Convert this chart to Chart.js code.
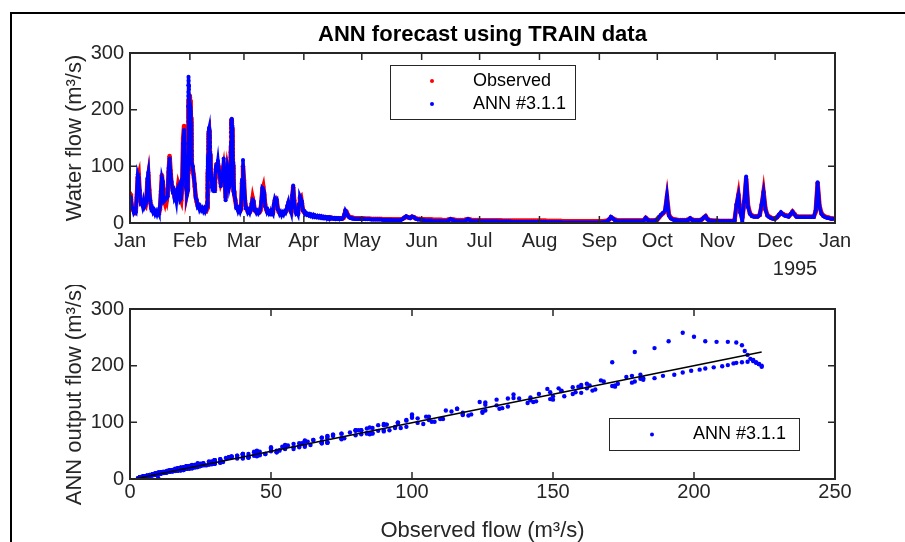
<!DOCTYPE html>
<html>
<head>
<meta charset="utf-8">
<title>ANN forecast using TRAIN data</title>
<script src="https://cdn.jsdelivr.net/npm/chart.js@4.4.0/dist/chart.umd.min.js"></script>
<style>
  html, body { margin: 0; padding: 0; background: #fff; overflow: hidden; }
  #page { position: relative; width: 905px; height: 542px; overflow: hidden; }
  #flowChart { position: absolute; left: 0; top: 0; }
  #scatterChart { position: absolute; left: 0; top: 285px; }
  #frame { position: absolute; left: 10px; top: 12px; width: 1000px; height: 1000px; border: 2px solid #000; pointer-events: none; }
</style>
</head>
<body>
<div id="page">
  <canvas id="flowChart" width="905" height="285"></canvas>
  <canvas id="scatterChart" width="905" height="257"></canvas>
  <div id="frame"></div>
</div>
<script>
// month ticks of the 1995 time axis (day of year)
var monthStarts = [0, 31, 59, 90, 120, 151, 181, 212, 243, 273, 304, 334, 365];
var monthLabels = ['Jan', 'Feb', 'Mar', 'Apr', 'May', 'Jun', 'Jul', 'Aug', 'Sep', 'Oct', 'Nov', 'Dec', 'Jan'];
var yearLabel = '1995';

// 1 Jan - 30 Jan, half-day steps
var obsJan = [
  52, 42, 30, 24, 21, 19, 22, 45, 80, 86,
  55, 40, 35, 33, 36, 32, 30, 42, 72, 84,
  58, 36, 28, 24, 22, 20, 19, 18, 18, 18,
  19, 24, 50, 84, 68, 42, 36, 46, 40, 52,
  90, 118, 92, 68, 62, 55, 48, 44, 42, 55,
  68, 62, 45, 40, 62, 150, 171, 125, 70, 52
];
var annJan = [
  47, 44, 27, 26, 18, 21, 19, 50, 86, 80,
  58, 36, 38, 30, 39, 29, 33, 38, 78, 89,
  53, 40, 25, 27, 19, 22, 16, 20, 15, 20,
  16, 28, 56, 80, 73, 38, 40, 42, 44, 47,
  97, 114, 86, 73, 57, 59, 44, 48, 38, 60,
  63, 67, 41, 44, 68, 140, 164, 117, 64, 50
];

// storm of 31 Jan - 2 Feb, hourly steps
var obsStorm = [
  60, 90, 130, 171, 179, 186, 191, 196, 200, 204,
  208, 212, 215, 217, 218, 219, 220, 221, 222, 223,
  224, 224, 223, 222, 221, 219, 217, 215, 214, 212,
  210, 207, 204, 202, 199, 196, 193, 189, 186, 182,
  178, 172, 165, 158, 150, 142, 134, 126, 118, 110
];
var annStorm = [
  58, 95, 140, 206, 224, 231, 243, 258, 251, 243,
  242, 242, 241, 236, 226, 219, 212, 208, 205, 203,
  200, 198, 203, 206, 210, 207, 206, 205, 204, 201,
  199, 197, 195, 193, 191, 188, 184, 182, 178, 175,
  170, 163, 158, 153, 146, 139, 128, 121, 113, 106
];

// 2 Feb - 9 Feb, half-day steps
var obsFebA = [95, 85, 65, 48, 38, 32, 29, 27, 26, 25, 24, 24, 23, 23, 22];
var annFebA = [100, 80, 69, 44, 41, 29, 31, 24, 28, 23, 26, 21, 25, 20, 24];

// 10-11 Feb event, hourly steps
var obsFebB = [
  28, 32, 38, 45, 53, 61, 68, 75, 82, 88,
  94, 100, 106, 112, 118, 124, 130, 136, 142, 148,
  153, 157, 160, 162, 163, 162, 160, 157, 153, 149,
  145, 141, 136, 131, 126, 121, 116, 111, 106, 102,
  98, 94, 91, 88, 86, 84, 82, 80
];
var annFebB = [
  30, 35, 36, 48, 50, 63, 66, 80, 79, 95,
  92, 108, 104, 121, 117, 136, 130, 149, 144, 159,
  156, 162, 166, 168, 165, 160, 163, 150, 155, 141,
  150, 134, 143, 124, 135, 114, 124, 106, 110, 99,
  103, 90, 96, 85, 90, 81, 86, 77
];

// 12 Feb - 21 Feb, half-day steps
var obsFebC = [80, 68, 62, 60, 72, 95, 104, 105, 98, 80, 70, 75, 90, 100, 85, 45, 70, 95, 85, 70];
var annFebC = [86, 63, 66, 56, 78, 99, 97, 110, 92, 85, 65, 80, 84, 114, 79, 40, 75, 99, 91, 64];

// 22-23 Feb event, hourly steps
var obsFebD = [
  75, 82, 90, 98, 107, 116, 125, 134, 143, 152,
  160, 167, 173, 178, 181, 182, 181, 179, 176, 172,
  168, 164, 159, 154, 149, 144, 138, 132, 126, 120,
  114, 108, 102, 96, 91, 86, 81, 76, 72, 68,
  65, 62, 60, 58, 56, 55, 54, 53
];
var annFebD = [
  72, 86, 86, 104, 101, 124, 119, 142, 136, 160,
  152, 174, 168, 182, 177, 178, 184, 172, 180, 165,
  172, 156, 163, 146, 153, 137, 142, 125, 131, 112,
  119, 101, 107, 90, 96, 81, 86, 72, 76, 65,
  69, 59, 63, 56, 59, 53, 57, 51
];

// 24 Feb - 30 Apr, half-day steps
var obsSpring = [
  50, 40, 30, 26, 24, 23, 22,
  24, 70, 100, 75, 40, 29, 24, 21, 20, 20,
  22, 32, 44, 36, 25, 21, 20, 19, 19, 19,
  22, 35, 58, 64, 50, 32, 24, 21, 20, 19,
  18, 17, 17, 18, 30, 40, 42, 38, 26, 20,
  18, 17, 16, 16, 17, 18, 20, 22, 28, 34,
  30, 22, 20, 45, 63, 40, 25, 19, 17, 17,
  30, 44, 46, 35, 24, 20, 18, 17, 16, 15.5,
  15, 14.5, 14, 13.5, 13, 13, 12.5, 12, 12, 11.5,
  11, 11, 11, 10.5, 10.5, 10, 10, 10, 9.5, 9.5,
  9.5, 9, 9, 9, 9, 8.5, 8.5, 8.5, 8.5, 8.5,
  8, 8, 8, 8, 8, 8, 9, 14, 21, 20,
  16, 13, 11, 10, 9.5, 9, 9, 8.5, 8.5, 8.5,
  8, 8, 8, 8, 8
];
var annSpring = [
  51, 43, 27, 28, 21, 25, 20,
  26, 76, 111, 70, 44, 26, 26, 19, 22, 18,
  24, 35, 41, 39, 23, 23, 18, 21, 17, 20,
  25, 38, 62, 60, 54, 29, 26, 19, 22, 17,
  20, 15, 19, 16, 33, 43, 39, 41, 24, 22,
  16, 19, 14, 18, 15, 20, 18, 24, 31, 37,
  27, 24, 18, 49, 66, 37, 27, 17, 19, 15,
  33, 47, 43, 38, 22, 22, 16, 18, 14.5, 16,
  13.5, 15.5, 12.5, 14.5, 11.5, 14, 11, 13, 10.5, 12.5,
  10, 12, 9.5, 11.5, 9, 11, 8.5, 10.5, 8.5, 10,
  8.5, 10, 7.5, 9.5, 8, 9, 7.5, 9, 7, 8.5,
  7, 8.5, 6.5, 8, 7, 8, 10, 15, 22, 19,
  15, 12, 10, 9, 8.5, 8, 8, 7.5, 7.5, 7.5,
  7, 7.5, 7, 7.5, 7
];

// 1 May - 31 Dec, daily steps
var obsRest = [
  8, 8, 7.5, 7.5, 7.5, 7, 7, 7, 7, 7,
  7, 6.5, 6.5, 6.5, 6.5, 6.5, 6, 6, 6, 6,
  6, 7, 9, 11, 10, 9, 11, 10, 8, 7,
  7, 6.5, 6.5, 6, 6, 6, 6, 5.5, 5.5, 5.5,
  5.5, 5.5, 5, 5, 5, 6, 7, 6, 5.5, 5,
  5, 5, 5, 5, 6, 7, 6, 5, 5, 5,
  5, 5, 4.5, 4.5, 4.5, 4.5, 4.5, 4.5, 4.5, 4.5,
  4.5, 4.5, 4.5, 4, 4, 4, 4, 4, 4, 4,
  4, 4, 4, 4, 4, 4, 4, 4, 4, 4,
  4, 4, 4, 4, 4, 4, 3.5, 3.5, 3.5, 3.5,
  3.5, 3.5, 3.5, 3.5, 3, 3, 3, 3, 3, 3,
  3, 3, 3, 3, 3, 3, 3, 3, 3, 3,
  3, 3, 3, 3, 3, 3, 3.5, 4, 6, 10,
  8, 6, 5, 4.5, 4.5, 4.5, 4.5, 4.5, 4.5, 4.5,
  4.5, 4.5, 4.5, 4.5, 4.5, 4.5, 5, 9, 6, 4.5,
  4.5, 4.5, 5, 6, 10, 14, 17, 20, 46, 15,
  9, 7, 6, 5.5, 5, 5, 5, 5, 5, 6,
  8, 6, 5, 5, 5, 5, 6, 9, 12, 7,
  5, 4.5, 4, 4, 4, 3.5, 3.5, 3.5, 3.5, 3.5,
  3.5, 3.5, 3.5, 5, 30, 50, 20, 10, 35, 78,
  30, 17, 13, 12, 12, 12, 14, 30, 55, 25,
  14, 11, 9, 8, 8, 10, 14, 18, 16, 14,
  13, 12, 15, 20, 16, 12, 11, 11, 11, 11,
  11, 11, 11, 11, 11, 20, 70, 30, 17, 13,
  11, 10, 9, 8, 8
];
var annRest = [
  7, 7, 6.5, 6.5, 6.5, 6, 6, 6, 6, 6,
  6, 5.5, 5.5, 5.5, 5.5, 5.5, 5, 5, 5, 5,
  5, 6.5, 9.5, 12, 10, 8.5, 11.5, 10, 7.5, 6,
  6, 5.5, 5, 4.5, 4.5, 4.5, 4.5, 4, 4, 4,
  4, 4, 3.5, 3.5, 3.5, 5, 7, 5.5, 4.5, 4,
  3.5, 3.5, 3.5, 3.5, 5, 7, 5, 3.5, 3.5, 3.5,
  3.5, 3, 3, 3, 3, 3, 3, 3, 3, 3,
  3, 2.5, 2.5, 2.5, 2.5, 2.5, 2.5, 2.5, 2, 2,
  2, 2, 2, 2, 2, 2, 2, 2, 2, 2,
  2, 2, 2, 2, 2, 2, 1.5, 1.5, 1.5, 1.5,
  1.5, 1.5, 1.5, 1.5, 1, 1, 1, 1, 1, 1,
  1, 1, 1, 1, 1, 1, 1, 1, 1, 1,
  1, 1, 1, 1, 1, 1.5, 2, 3, 6, 11,
  8, 5, 4, 3.5, 3.5, 3.5, 3.5, 3.5, 3.5, 3.5,
  3.5, 3.5, 3.5, 3.5, 3.5, 3.5, 4.5, 9, 5.5, 4,
  4, 4, 4.5, 6, 11, 15, 18, 22, 48, 13,
  8, 6, 5, 5, 4.5, 4.5, 4.5, 4.5, 4.5, 5.5,
  8.5, 5.5, 4.5, 4.5, 4.5, 4.5, 6, 9.5, 12, 6,
  4.5, 4, 3.5, 3.5, 3.5, 3, 3, 3, 3, 3,
  3, 3, 3, 4, 33, 49, 18, 2, 38, 82,
  28, 16, 12, 11, 11, 11, 14, 33, 54, 23,
  13, 10, 8.5, 7.5, 7.5, 10, 15, 19, 15, 13,
  12, 11, 16, 20, 15, 11, 10.5, 10.5, 10.5, 10.5,
  10.5, 10.5, 10.5, 10.5, 10.5, 22, 72, 28, 16, 12,
  10, 9, 8.5, 7.5, 7.5
];

// least-squares line shown in the scatter (observed -> ANN)
var fitObs = [1.4, 224];
var fitAnn = [0, 224];

var flowTicks = [0, 100, 200, 300];
var obsTicks = [0, 50, 100, 150, 200, 250];

// each block: first day, step in days, observed, ANN
var blocks = [
  [0, 0.5, obsJan, annJan],
  [30, 1 / 24, obsStorm, annStorm],
  [32.5, 0.5, obsFebA, annFebA],
  [40, 1 / 24, obsFebB, annFebB],
  [42, 0.5, obsFebC, annFebC],
  [52, 1 / 24, obsFebD, annFebD],
  [54, 0.5, obsSpring, annSpring],
  [120, 1, obsRest, annRest]
];

var obsSeries = [], annSeries = [], scatterPts = [];
blocks.forEach(function(b) {
  b[2].forEach(function(v, i) {
    var t = b[0] + i * b[1];
    obsSeries.push({ x: t, y: v });
    annSeries.push({ x: t, y: b[3][i] });
    scatterPts.push({ x: v, y: b[3][i] });
  });
});

var FONT = "'Liberation Sans', Arial, Helvetica, sans-serif";
Chart.defaults.font.family = FONT;
Chart.defaults.font.size = 20;
Chart.defaults.color = '#262626';

// MATLAB style box, inner ticks, legend and loose labels
var decor = {
  id: 'decor',
  afterDraw: function(chart, args, opts) {
    var ctx = chart.ctx, a = chart.chartArea;
    var xs = chart.scales.x, ys = chart.scales.y;
    ctx.save();
    ctx.strokeStyle = '#262626';
    ctx.lineWidth = 1.5;
    ctx.beginPath();
    xs.ticks.forEach(function(t) {
      var px = xs.getPixelForValue(t.value);
      ctx.moveTo(px, a.bottom); ctx.lineTo(px, a.bottom - 7);
      ctx.moveTo(px, a.top); ctx.lineTo(px, a.top + 7);
    });
    ys.ticks.forEach(function(t) {
      var py = ys.getPixelForValue(t.value);
      ctx.moveTo(a.left, py); ctx.lineTo(a.left + 7, py);
      ctx.moveTo(a.right, py); ctx.lineTo(a.right - 7, py);
    });
    ctx.stroke();
    ctx.lineWidth = 2;
    ctx.strokeRect(a.left, a.top, a.right - a.left, a.bottom - a.top);

    if (opts.legend) {
      var lg = opts.legend;
      ctx.fillStyle = '#fff';
      ctx.fillRect(lg.x, lg.y, lg.w, lg.h);
      ctx.lineWidth = 1;
      ctx.strokeStyle = '#262626';
      ctx.strokeRect(lg.x + 0.5, lg.y + 0.5, lg.w, lg.h);
      ctx.font = '18px ' + FONT;
      ctx.textAlign = 'left';
      ctx.textBaseline = 'middle';
      lg.items.forEach(function(it) {
        ctx.fillStyle = it.color;
        ctx.beginPath();
        ctx.arc(lg.dotX, it.y, 2, 0, Math.PI * 2);
        ctx.fill();
        ctx.fillStyle = '#000';
        ctx.fillText(it.text, lg.textX, it.y);
      });
    }
    (opts.notes || []).forEach(function(n) {
      ctx.font = '20px ' + FONT;
      ctx.fillStyle = '#262626';
      ctx.textAlign = 'center';
      ctx.textBaseline = 'alphabetic';
      ctx.fillText(n.text, n.x, n.y);
    });
    ctx.restore();
  }
};

new Chart(document.getElementById('flowChart'), {
  type: 'line',
  data: {
    datasets: [
      { label: 'ANN #3.1.1', data: annSeries, borderColor: '#0000ff', backgroundColor: '#0000ff',
        borderWidth: 3.5, pointRadius: 2, pointBorderWidth: 0, tension: 0, order: 1 },
      { label: 'Observed', data: obsSeries, borderColor: '#ff0000', backgroundColor: '#ff0000',
        borderWidth: 4.5, pointRadius: 2.3, pointBorderWidth: 0, tension: 0, order: 2 }
    ]
  },
  options: {
    responsive: false,
    animation: false,
    devicePixelRatio: 1,
    events: [],
    layout: { padding: { left: 0, right: 70, top: 0, bottom: 0 } },
    plugins: {
      legend: { display: false },
      tooltip: { enabled: false },
      title: {
        display: true, text: 'ANN forecast using TRAIN data', fullSize: false, color: '#000',
        font: { size: 22, weight: 'bold' }, padding: { top: 22, bottom: 4.6 }
      },
      decor: {
        legend: {
          x: 390, y: 65, w: 185, h: 54, dotX: 432, textX: 473,
          items: [
            { text: 'Observed', color: '#ff0000', y: 81 },
            { text: 'ANN #3.1.1', color: '#0000ff', y: 104 }
          ]
        },
        notes: [{ text: yearLabel, x: 795, y: 275 }]
      }
    },
    scales: {
      x: {
        type: 'linear', min: monthStarts[0], max: monthStarts[monthStarts.length - 1],
        grid: { display: false, drawTicks: false }, border: { display: false },
        afterBuildTicks: function(scale) {
          scale.ticks = monthStarts.map(function(v) { return { value: v }; });
        },
        afterFit: function(scale) { scale.height = 62; },
        ticks: {
          autoSkip: false, maxRotation: 0, padding: 6.5,
          callback: function(value, index) { return monthLabels[index]; }
        }
      },
      y: {
        min: 0, max: 300,
        grid: { display: false, drawTicks: false }, border: { display: false },
        afterBuildTicks: function(scale) {
          scale.ticks = flowTicks.map(function(v) { return { value: v }; });
        },
        afterFit: function(scale) { scale.width = 130; },
        ticks: { padding: 6 },
        title: { display: true, text: 'Water flow (m\u00b3/s)', font: { size: 22 }, padding: { top: 62, bottom: 0 } }
      }
    }
  },
  plugins: [decor]
});

new Chart(document.getElementById('scatterChart'), {
  type: 'scatter',
  data: {
    datasets: [
      { type: 'line', label: 'fit', data: [{ x: fitObs[0], y: fitAnn[0] }, { x: fitObs[1], y: fitAnn[1] }],
        borderColor: '#000', borderWidth: 1.6, pointRadius: 0, order: 0 },
      { label: 'ANN #3.1.1', data: scatterPts, backgroundColor: '#0000ff', borderColor: '#0000ff',
        pointRadius: 2.2, pointBorderWidth: 0, order: 1 }
    ]
  },
  options: {
    responsive: false,
    animation: false,
    devicePixelRatio: 1,
    events: [],
    layout: { padding: { left: 0, right: 70, top: 24, bottom: 0 } },
    plugins: {
      legend: { display: false },
      tooltip: { enabled: false },
      decor: {
        legend: {
          x: 609, y: 133, w: 190, h: 32, dotX: 652, textX: 693,
          items: [{ text: 'ANN #3.1.1', color: '#0000ff', y: 149.5 }]
        }
      }
    },
    scales: {
      x: {
        type: 'linear', min: 0, max: 250,
        grid: { display: false, drawTicks: false }, border: { display: false },
        afterBuildTicks: function(scale) {
          scale.ticks = obsTicks.map(function(v) { return { value: v }; });
        },
        afterFit: function(scale) { scale.height = 63; },
        ticks: { autoSkip: false, maxRotation: 0, padding: 1 },
        title: { display: true, text: 'Observed flow (m\u00b3/s)', font: { size: 22, lineHeight: 1 }, padding: { top: 0, bottom: 0 } }
      },
      y: {
        min: 0, max: 300,
        grid: { display: false, drawTicks: false }, border: { display: false },
        afterBuildTicks: function(scale) {
          scale.ticks = flowTicks.map(function(v) { return { value: v }; });
        },
        afterFit: function(scale) { scale.width = 130; },
        ticks: { padding: 6 },
        title: { display: true, text: 'ANN output flow (m\u00b3/s)', font: { size: 22 }, padding: { top: 62, bottom: 0 } }
      }
    }
  },
  plugins: [decor]
});
</script>
</body>
</html>
